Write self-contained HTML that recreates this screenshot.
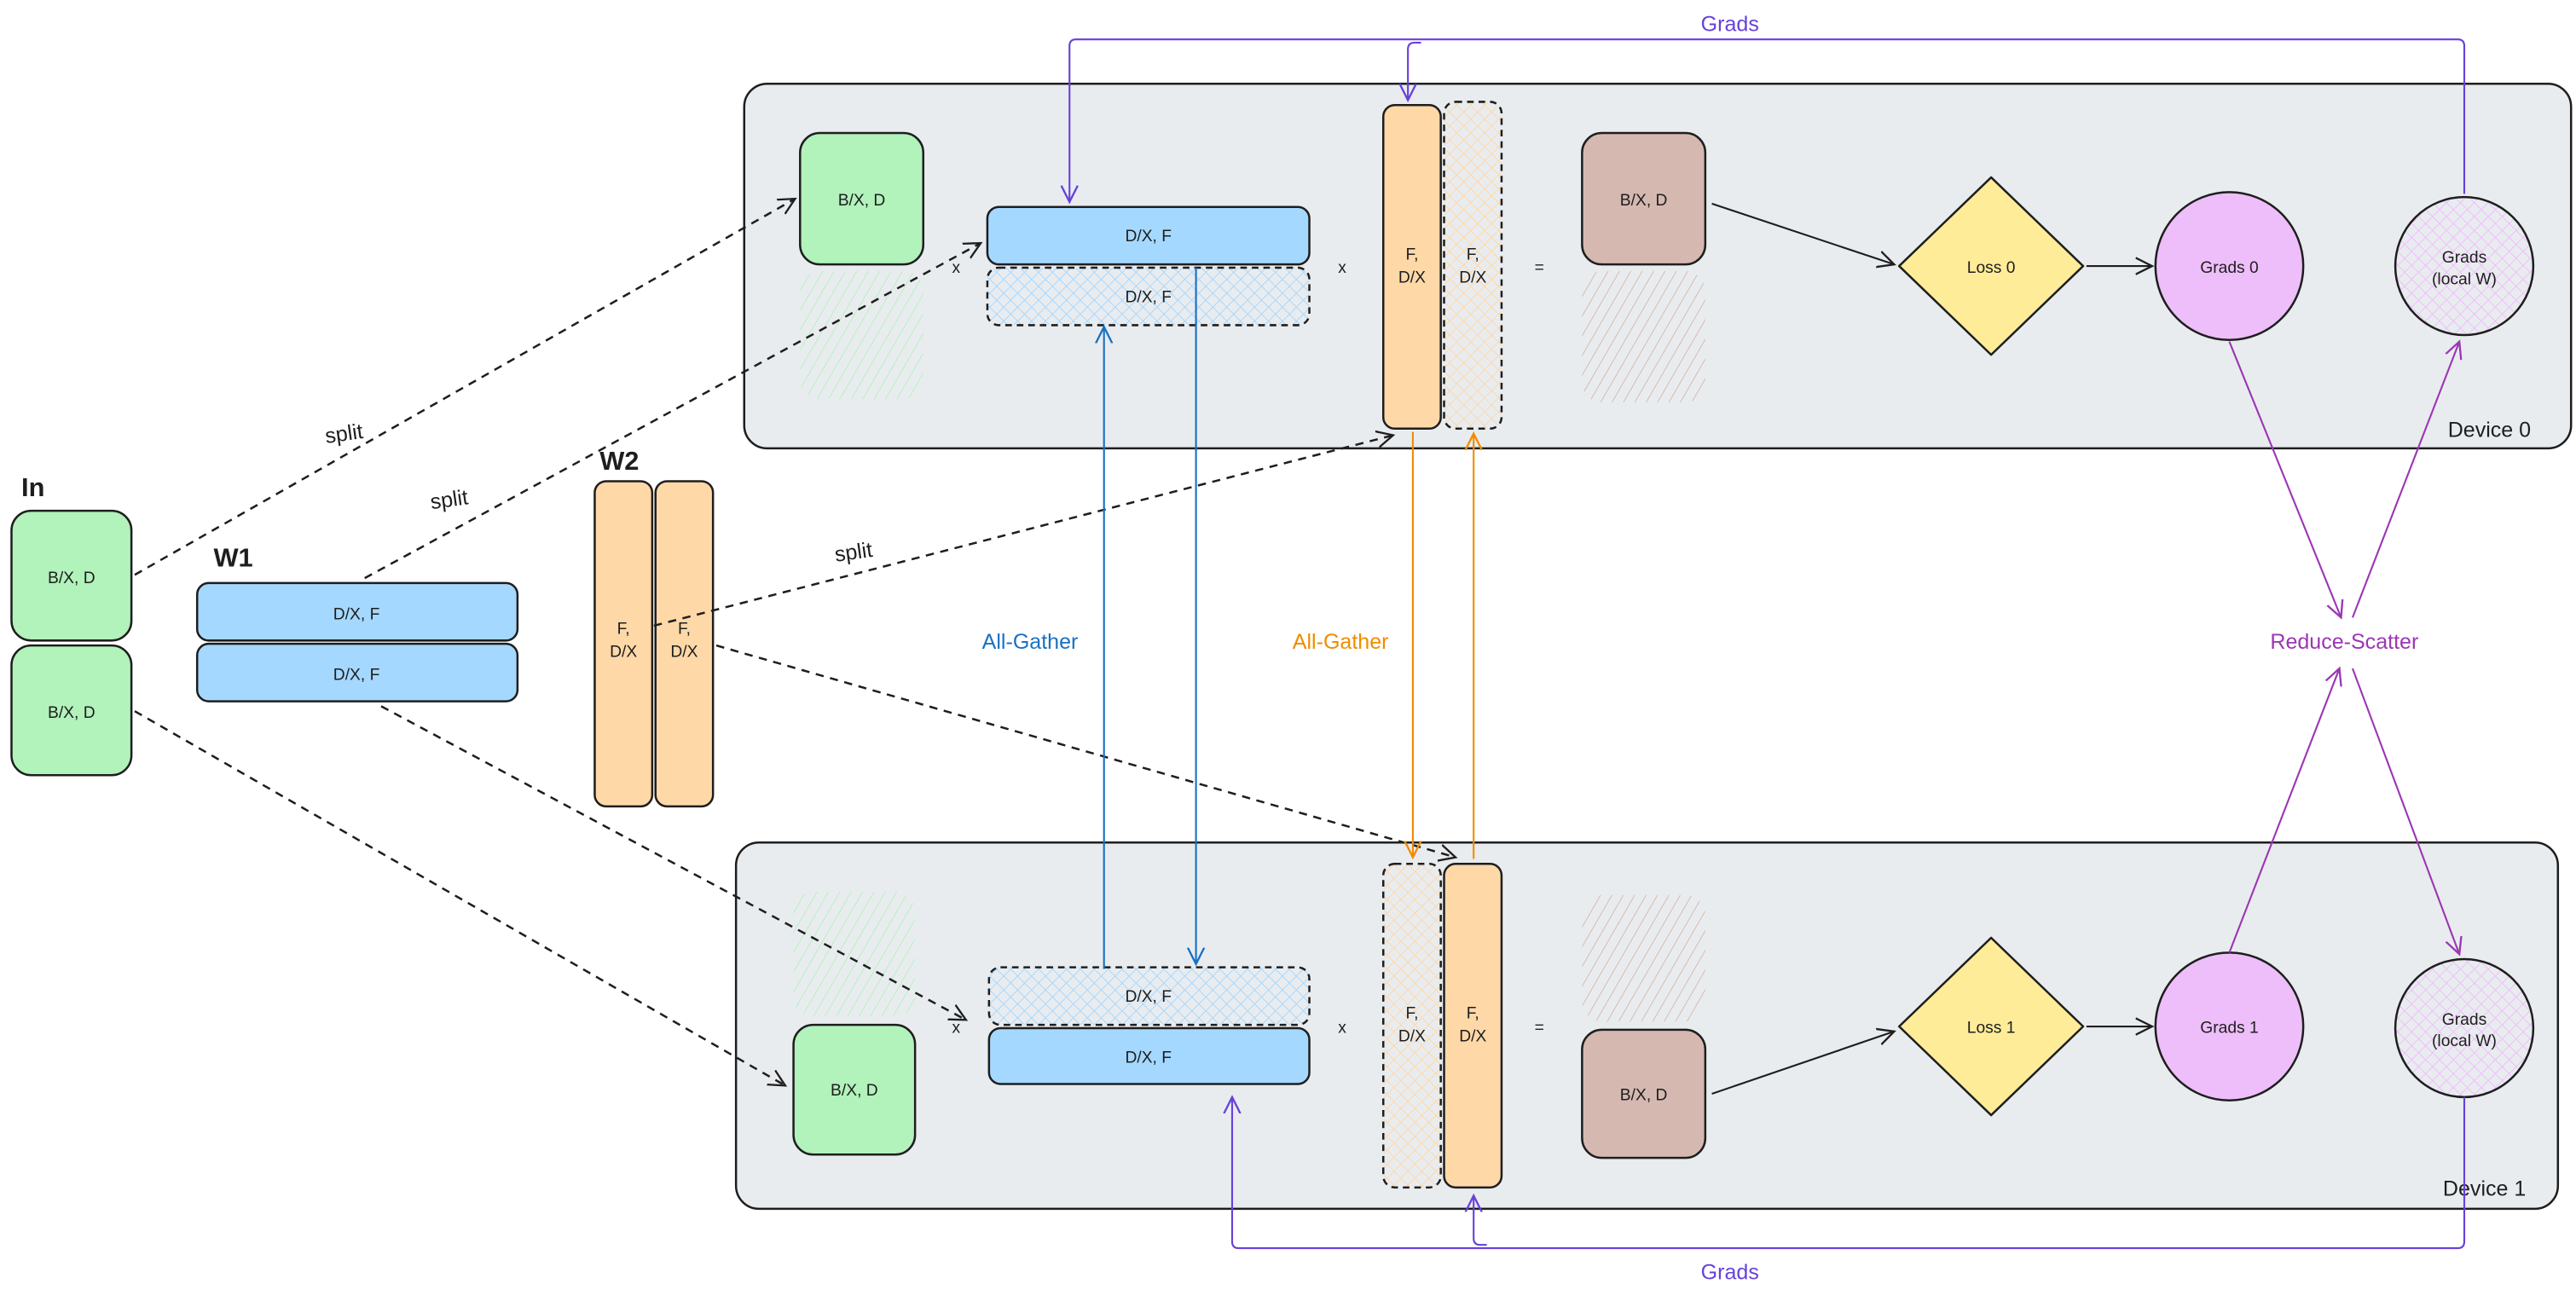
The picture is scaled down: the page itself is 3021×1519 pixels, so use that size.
<!DOCTYPE html>
<html><head><meta charset="utf-8"><style>
html,body{margin:0;padding:0;background:#fff;}
svg{display:block;}
text{font-family:"Liberation Sans",sans-serif;fill:#1e1e1e;}
</style></head><body>
<svg width="3021" height="1519" viewBox="0 0 1568 788.5" preserveAspectRatio="none" xmlns="http://www.w3.org/2000/svg">
<defs>
<pattern id="hg" width="6" height="6" patternUnits="userSpaceOnUse" patternTransform="rotate(30)"><line x1="0" y1="0" x2="0" y2="6" stroke="#b2f2bb" stroke-width="1"/></pattern>
<pattern id="hb" width="6" height="6" patternUnits="userSpaceOnUse" patternTransform="rotate(30)"><line x1="0" y1="0" x2="0" y2="6" stroke="#d5b9b0" stroke-width="1"/></pattern>
<pattern id="xb" width="6" height="6" patternUnits="userSpaceOnUse" patternTransform="rotate(45)"><line x1="0" y1="0" x2="0" y2="6" stroke="#a5d8ff" stroke-width="1"/><line x1="0" y1="0" x2="6" y2="0" stroke="#a5d8ff" stroke-width="1"/></pattern>
<pattern id="xo" width="6" height="6" patternUnits="userSpaceOnUse" patternTransform="rotate(45)"><line x1="0" y1="0" x2="0" y2="6" stroke="#ffd8a8" stroke-width="1"/><line x1="0" y1="0" x2="6" y2="0" stroke="#ffd8a8" stroke-width="1"/></pattern>
<pattern id="xp" width="6" height="6" patternUnits="userSpaceOnUse" patternTransform="rotate(45)"><line x1="0" y1="0" x2="0" y2="6" stroke="#eebefa" stroke-width="1"/><line x1="0" y1="0" x2="6" y2="0" stroke="#eebefa" stroke-width="1"/></pattern>
<marker id="ak" markerWidth="12" markerHeight="12" refX="10" refY="6" orient="auto" markerUnits="userSpaceOnUse"><path d="M0,1 L10,6 L0,11" fill="none" stroke="#1e1e1e" stroke-width="1.2"/></marker>
<marker id="abl" markerWidth="12" markerHeight="12" refX="10" refY="6" orient="auto" markerUnits="userSpaceOnUse"><path d="M0,1 L10,6 L0,11" fill="none" stroke="#1971c2" stroke-width="1.2"/></marker>
<marker id="aor" markerWidth="12" markerHeight="12" refX="10" refY="6" orient="auto" markerUnits="userSpaceOnUse"><path d="M0,1 L10,6 L0,11" fill="none" stroke="#f08c00" stroke-width="1.2"/></marker>
<marker id="avi" markerWidth="12" markerHeight="12" refX="10" refY="6" orient="auto" markerUnits="userSpaceOnUse"><path d="M0,1 L10,6 L0,11" fill="none" stroke="#6741d9" stroke-width="1.2"/></marker>
<marker id="apu" markerWidth="12" markerHeight="12" refX="10" refY="6" orient="auto" markerUnits="userSpaceOnUse"><path d="M0,1 L10,6 L0,11" fill="none" stroke="#9c36b5" stroke-width="1.2"/></marker>
</defs>

<!-- device boxes -->
<rect x="453" y="51" width="1112" height="222" rx="14" fill="#e9ecef" stroke="#1e1e1e" stroke-width="1.3"/>
<rect x="448" y="513" width="1109" height="223" rx="14" fill="#e9ecef" stroke="#1e1e1e" stroke-width="1.3"/>
<text x="1490" y="266" font-size="13">Device 0</text>
<text x="1487" y="728" font-size="13">Device 1</text>

<!-- left inputs -->
<text x="13" y="302" font-size="16" font-weight="bold">In</text>
<rect x="7" y="311" width="73" height="79" rx="12" fill="#b2f2bb" stroke="#1e1e1e" stroke-width="1.3"/>
<rect x="7" y="393" width="73" height="79" rx="12" fill="#b2f2bb" stroke="#1e1e1e" stroke-width="1.3"/>
<text x="43.5" y="355" font-size="10" text-anchor="middle">B/X, D</text>
<text x="43.5" y="437" font-size="10" text-anchor="middle">B/X, D</text>
<text x="130" y="345" font-size="16" font-weight="bold">W1</text>
<rect x="120" y="355" width="195" height="35" rx="7" fill="#a5d8ff" stroke="#1e1e1e" stroke-width="1.3"/>
<rect x="120" y="392" width="195" height="35" rx="7" fill="#a5d8ff" stroke="#1e1e1e" stroke-width="1.3"/>
<text x="217" y="377" font-size="10" text-anchor="middle">D/X, F</text>
<text x="217" y="414" font-size="10" text-anchor="middle">D/X, F</text>
<text x="365" y="286" font-size="16" font-weight="bold">W2</text>
<rect x="362" y="293" width="35" height="198" rx="7" fill="#ffd8a8" stroke="#1e1e1e" stroke-width="1.3"/>
<rect x="399" y="293" width="35" height="198" rx="7" fill="#ffd8a8" stroke="#1e1e1e" stroke-width="1.3"/>
<text x="379.5" y="386" font-size="10" text-anchor="middle">F,</text><text x="379.5" y="400" font-size="10" text-anchor="middle">D/X</text>
<text x="416.5" y="386" font-size="10" text-anchor="middle">F,</text><text x="416.5" y="400" font-size="10" text-anchor="middle">D/X</text>

<!-- Device 0 contents -->
<rect x="487" y="81" width="75" height="80" rx="12" fill="#b2f2bb" stroke="#1e1e1e" stroke-width="1.3"/>
<text x="524.5" y="125" font-size="10" text-anchor="middle">B/X, D</text>
<rect x="487" y="165" width="75" height="78" rx="12" fill="url(#hg)"/>
<rect x="601" y="126" width="196" height="35" rx="7" fill="#a5d8ff" stroke="#1e1e1e" stroke-width="1.3"/>
<text x="699" y="147" font-size="10" text-anchor="middle">D/X, F</text>
<rect x="601" y="163" width="196" height="35" rx="7" fill="url(#xb)" stroke="#1e1e1e" stroke-width="1.3" stroke-dasharray="4,3"/>
<text x="699" y="184" font-size="10" text-anchor="middle">D/X, F</text>
<text x="582" y="166" font-size="10" text-anchor="middle">x</text>
<text x="817" y="166" font-size="10" text-anchor="middle">x</text>
<text x="937" y="166" font-size="10" text-anchor="middle">=</text>
<rect x="842" y="64" width="35" height="197" rx="7" fill="#ffd8a8" stroke="#1e1e1e" stroke-width="1.3"/>
<rect x="879" y="62" width="35" height="199" rx="7" fill="url(#xo)" stroke="#1e1e1e" stroke-width="1.3" stroke-dasharray="4,3"/>
<text x="859.5" y="158" font-size="10" text-anchor="middle">F,</text><text x="859.5" y="172" font-size="10" text-anchor="middle">D/X</text>
<text x="896.5" y="158" font-size="10" text-anchor="middle">F,</text><text x="896.5" y="172" font-size="10" text-anchor="middle">D/X</text>
<rect x="963" y="81" width="75" height="80" rx="12" fill="#d5b9b0" stroke="#1e1e1e" stroke-width="1.3"/>
<text x="1000.5" y="125" font-size="10" text-anchor="middle">B/X, D</text>
<rect x="963" y="165" width="75" height="80" rx="12" fill="url(#hb)"/>
<path d="M1212,108 L1268,162 L1212,216 L1156,162 Z" fill="#ffec99" stroke="#1e1e1e" stroke-width="1.3" stroke-linejoin="round"/>
<text x="1212" y="166" font-size="10" text-anchor="middle">Loss 0</text>
<circle cx="1357" cy="162" r="45" fill="#eebefa" stroke="#1e1e1e" stroke-width="1.3"/>
<text x="1357" y="166" font-size="10" text-anchor="middle">Grads 0</text>
<circle cx="1500" cy="162" r="42" fill="url(#xp)" stroke="#1e1e1e" stroke-width="1.3"/>
<text x="1500" y="160" font-size="10" text-anchor="middle">Grads</text>
<text x="1500" y="173" font-size="10" text-anchor="middle">(local W)</text>
<line x1="1042" y1="124" x2="1153" y2="161" stroke="#1e1e1e" stroke-width="1.1" marker-end="url(#ak)"/>
<line x1="1270" y1="162" x2="1310" y2="162" stroke="#1e1e1e" stroke-width="1.1" marker-end="url(#ak)"/>

<!-- Device 1 contents -->
<rect x="483" y="543" width="74" height="76" rx="12" fill="url(#hg)"/>
<rect x="483" y="624" width="74" height="79" rx="12" fill="#b2f2bb" stroke="#1e1e1e" stroke-width="1.3"/>
<text x="520" y="667" font-size="10" text-anchor="middle">B/X, D</text>
<rect x="602" y="589" width="195" height="35" rx="7" fill="url(#xb)" stroke="#1e1e1e" stroke-width="1.3" stroke-dasharray="4,3"/>
<text x="699" y="610" font-size="10" text-anchor="middle">D/X, F</text>
<rect x="602" y="626" width="195" height="34" rx="7" fill="#a5d8ff" stroke="#1e1e1e" stroke-width="1.3"/>
<text x="699" y="647" font-size="10" text-anchor="middle">D/X, F</text>
<text x="582" y="629" font-size="10" text-anchor="middle">x</text>
<text x="817" y="629" font-size="10" text-anchor="middle">x</text>
<text x="937" y="629" font-size="10" text-anchor="middle">=</text>
<rect x="842" y="526" width="35" height="197" rx="7" fill="url(#xo)" stroke="#1e1e1e" stroke-width="1.3" stroke-dasharray="4,3"/>
<rect x="879" y="526" width="35" height="197" rx="7" fill="#ffd8a8" stroke="#1e1e1e" stroke-width="1.3"/>
<text x="859.5" y="620" font-size="10" text-anchor="middle">F,</text><text x="859.5" y="634" font-size="10" text-anchor="middle">D/X</text>
<text x="896.5" y="620" font-size="10" text-anchor="middle">F,</text><text x="896.5" y="634" font-size="10" text-anchor="middle">D/X</text>
<rect x="963" y="545" width="75" height="77" rx="12" fill="url(#hb)"/>
<rect x="963" y="627" width="75" height="78" rx="12" fill="#d5b9b0" stroke="#1e1e1e" stroke-width="1.3"/>
<text x="1000.5" y="670" font-size="10" text-anchor="middle">B/X, D</text>
<path d="M1212,571 L1268,625 L1212,679 L1156,625 Z" fill="#ffec99" stroke="#1e1e1e" stroke-width="1.3" stroke-linejoin="round"/>
<text x="1212" y="629" font-size="10" text-anchor="middle">Loss 1</text>
<circle cx="1357" cy="625" r="45" fill="#eebefa" stroke="#1e1e1e" stroke-width="1.3"/>
<text x="1357" y="629" font-size="10" text-anchor="middle">Grads 1</text>
<circle cx="1500" cy="626" r="42" fill="url(#xp)" stroke="#1e1e1e" stroke-width="1.3"/>
<text x="1500" y="624" font-size="10" text-anchor="middle">Grads</text>
<text x="1500" y="637" font-size="10" text-anchor="middle">(local W)</text>
<line x1="1042" y1="666" x2="1153" y2="628" stroke="#1e1e1e" stroke-width="1.1" marker-end="url(#ak)"/>
<line x1="1270" y1="625" x2="1310" y2="625" stroke="#1e1e1e" stroke-width="1.1" marker-end="url(#ak)"/>

<!-- dashed split arrows -->
<g stroke="#1e1e1e" stroke-width="1.3" stroke-dasharray="5,4" fill="none">
<line x1="82" y1="350" x2="484" y2="121" marker-end="url(#ak)"/>
<line x1="222" y1="352" x2="597" y2="148" marker-end="url(#ak)"/>
<line x1="398" y1="381" x2="848" y2="265" marker-end="url(#ak)"/>
<line x1="82" y1="433" x2="478" y2="661" marker-end="url(#ak)"/>
<line x1="232" y1="430" x2="588" y2="621" marker-end="url(#ak)"/>
<line x1="436" y1="393" x2="886" y2="522" marker-end="url(#ak)"/>
</g>
<text x="198" y="268" font-size="13" transform="rotate(-8 212 265)">split</text>
<text x="262" y="308" font-size="13" transform="rotate(-8 277 305)">split</text>
<text x="508" y="340" font-size="13" transform="rotate(-8 523 336)">split</text>

<!-- all-gather -->
<line x1="672" y1="590" x2="672" y2="199" stroke="#1971c2" stroke-width="1.1" marker-end="url(#abl)"/>
<line x1="728" y1="163" x2="728" y2="587" stroke="#1971c2" stroke-width="1.1" marker-end="url(#abl)"/>
<text x="627" y="395" font-size="13" fill="#1971c2" style="fill:#1971c2" text-anchor="middle">All-Gather</text>
<line x1="860" y1="263" x2="860" y2="522" stroke="#f08c00" stroke-width="1.1" marker-end="url(#aor)"/>
<line x1="897" y1="523" x2="897" y2="264" stroke="#f08c00" stroke-width="1.1" marker-end="url(#aor)"/>
<text x="816" y="395" font-size="13" style="fill:#f08c00" text-anchor="middle">All-Gather</text>

<!-- grads loops -->
<g stroke="#6741d9" stroke-width="1.1" fill="none">
<path d="M1500,118 L1500,28 Q1500,24 1496,24 L655,24 Q651,24 651,28 L651,123" marker-end="url(#avi)"/>
<path d="M865,26 L861,26 Q857,26 857,30 L857,61" marker-end="url(#avi)"/>
<path d="M1500,668 L1500,756 Q1500,760 1496,760 L754,760 Q750,760 750,756 L750,668" marker-end="url(#avi)"/>
<path d="M905,758 L901,758 Q897,758 897,754 L897,728" marker-end="url(#avi)"/>
</g>
<text x="1053" y="19" font-size="13" style="fill:#6741d9" text-anchor="middle">Grads</text>
<text x="1053" y="779" font-size="13" style="fill:#6741d9" text-anchor="middle">Grads</text>

<!-- reduce-scatter -->
<g stroke="#9c36b5" stroke-width="1.1" fill="none">
<line x1="1357" y1="208" x2="1425" y2="376" marker-end="url(#apu)"/>
<line x1="1432" y1="376" x2="1497" y2="208" marker-end="url(#apu)"/>
<line x1="1357" y1="580" x2="1424" y2="407" marker-end="url(#apu)"/>
<line x1="1432" y1="407" x2="1497" y2="581" marker-end="url(#apu)"/>
</g>
<text x="1427" y="395" font-size="13" style="fill:#9c36b5" text-anchor="middle">Reduce-Scatter</text>
</svg>
</body></html>
